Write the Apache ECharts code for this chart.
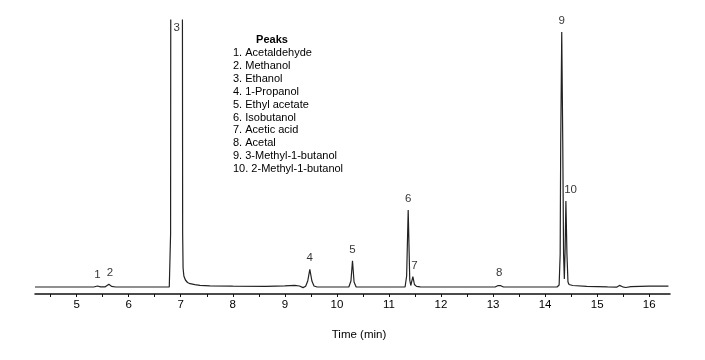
<!DOCTYPE html>
<html>
<head>
<meta charset="utf-8">
<script src="https://cdn.jsdelivr.net/npm/echarts@6/dist/echarts.min.js"></script>
<style>html,body{margin:0;padding:0;background:#fff}#c{width:705px;height:360px}</style>
</head>
<body>
<div id="c"></div>
<script>
// Chromatogram trace: [time (min), detector signal (arbitrary units)]
var traceTime = [4.2, 5.0, 5.33, 5.40, 5.46, 5.55, 5.58, 5.62, 5.67, 5.75, 6.78, 6.80, 6.805, 6.81, 7.03, 7.037, 7.045, 7.06, 7.09, 7.13, 7.18, 7.27, 7.37, 7.56, 8.0, 8.64, 9.0, 9.19, 9.28, 9.35, 9.40, 9.44, 9.48, 9.52, 9.56, 9.62, 10.23, 10.27, 10.30, 10.33, 10.37, 11.31, 11.34, 11.37, 11.40, 11.42, 11.43, 11.46, 11.49, 11.53, 11.6, 13.04, 13.09, 13.12, 13.15, 13.20, 14.23, 14.27, 14.29, 14.30, 14.32, 14.34, 14.355, 14.37, 14.385, 14.40, 14.42, 14.44, 14.46, 14.53, 14.8, 15.2, 15.38, 15.43, 15.49, 15.55, 15.65, 16.0, 16.37];
var traceSignal = [7, 7, 7, 8.0, 7.2, 7.2, 7.4, 9.7, 7.6, 7.0, 7, 8, 60, 400, 400, 60, 26, 18, 14, 11.5, 10.3, 9.3, 8.7, 8.1, 7.8, 7.7, 8.1, 8.7, 8.0, 6.4, 7.8, 13, 24.7, 13, 8, 7, 7, 13, 33.3, 12, 7, 7, 18, 84, 14, 8.5, 9, 17.3, 9.5, 7.6, 7.2, 7, 8.3, 10.3, 8.3, 7, 7, 9, 40, 150, 262, 150, 40, 15, 45, 93, 40, 12, 9.5, 8.5, 7.6, 7.1, 6.9, 8.6, 7.2, 6.5, 7.4, 7.8, 7.8];

// Peak annotations
var peakLabels = ['1', '2', '3', '4', '5', '6', '7', '8', '9', '10'];
var peakTimes = [5.40, 5.64, 6.92, 9.48, 10.30, 11.37, 11.49, 13.12, 14.32, 14.49];
var peakHeights = [8.0, 9.7, 274, 24.7, 33.3, 84, 17.3, 10.3, 262, 93];

var peakNames = ['1. Acetaldehyde', '2. Methanol', '3. Ethanol', '4. 1-Propanol', '5. Ethyl acetate', '6. Isobutanol', '7. Acetic acid', '8. Acetal', '9. 3-Methyl-1-butanol', '10. 2-Methyl-1-butanol'];
var legendTitle = 'Peaks';

// Axis ticks / labels
var xTickValues = [4.5, 5, 5.5, 6, 6.5, 7, 7.5, 8, 8.5, 9, 9.5, 10, 10.5, 11, 11.5, 12, 12.5, 13, 13.5, 14, 14.5, 15, 15.5, 16];
var xLabelValues = [5, 6, 7, 8, 9, 10, 11, 12, 13, 14, 15, 16];
var xMin = 4.2, xMax = 16.4, yMin = 0, yMax = 274;
var xTitle = 'Time (min)';

var FONT = '"Liberation Sans", Arial, Helvetica, sans-serif';
var trace = traceTime.map(function (t, i) { return [t, traceSignal[i]]; });
var labelData = peakTimes.map(function (t, i) {
  var item = { value: [t, peakHeights[i]], name: peakLabels[i] };
  if (peakLabels[i] === '3') {
    item.label = { position: 'insideTop', distance: 0, offset: [0, 2] };
  }
  return item;
});

var graphics = [{
  type: 'text', x: 272, y: 40,
  style: { text: legendTitle, fill: '#000', font: 'bold 11px ' + FONT, align: 'center', verticalAlign: 'middle' }
}];
peakNames.forEach(function (n, i) {
  graphics.push({
    type: 'text', x: 233, y: 53 + 12.9 * i,
    style: { text: n, fill: '#000', font: '11px ' + FONT, align: 'left', verticalAlign: 'middle' }
  });
});

var chart = echarts.init(document.getElementById('c'), null, { renderer: 'canvas' });
chart.setOption({
  animation: false,
  backgroundColor: '#fff',
  grid: { left: 35, right: 35, top: 20, bottom: 66, containLabel: false },
  xAxis: {
    type: 'value', min: xMin, max: xMax,
    name: xTitle, nameLocation: 'middle', nameGap: 35,
    nameTextStyle: { color: '#000', fontFamily: FONT, fontSize: 11.5, padding: [0, 0, 0, 13] },
    axisLine: { show: true, onZero: false, lineStyle: { color: '#111', width: 1.5 } },
    axisTick: { show: true, inside: false, length: 3, customValues: xTickValues, lineStyle: { color: '#111', width: 1 } },
    axisLabel: { show: true, margin: 5, customValues: xLabelValues, color: '#000', fontFamily: FONT, fontSize: 11.5 },
    splitLine: { show: false }
  },
  yAxis: {
    type: 'value', min: yMin, max: yMax, show: false,
    splitLine: { show: false }
  },
  series: [{
    type: 'line', data: trace, showSymbol: false, symbol: 'none', clip: true,
    lineStyle: { color: '#222', width: 1.2 }, silent: true
  }, {
    type: 'scatter', data: labelData, symbolSize: 0, silent: true, clip: false,
    label: {
      show: true, position: 'top', distance: 5, formatter: '{b}',
      color: '#000', fontFamily: FONT, fontSize: 11.5
    }
  }],
  graphic: graphics
});
</script>
</body>
</html>
